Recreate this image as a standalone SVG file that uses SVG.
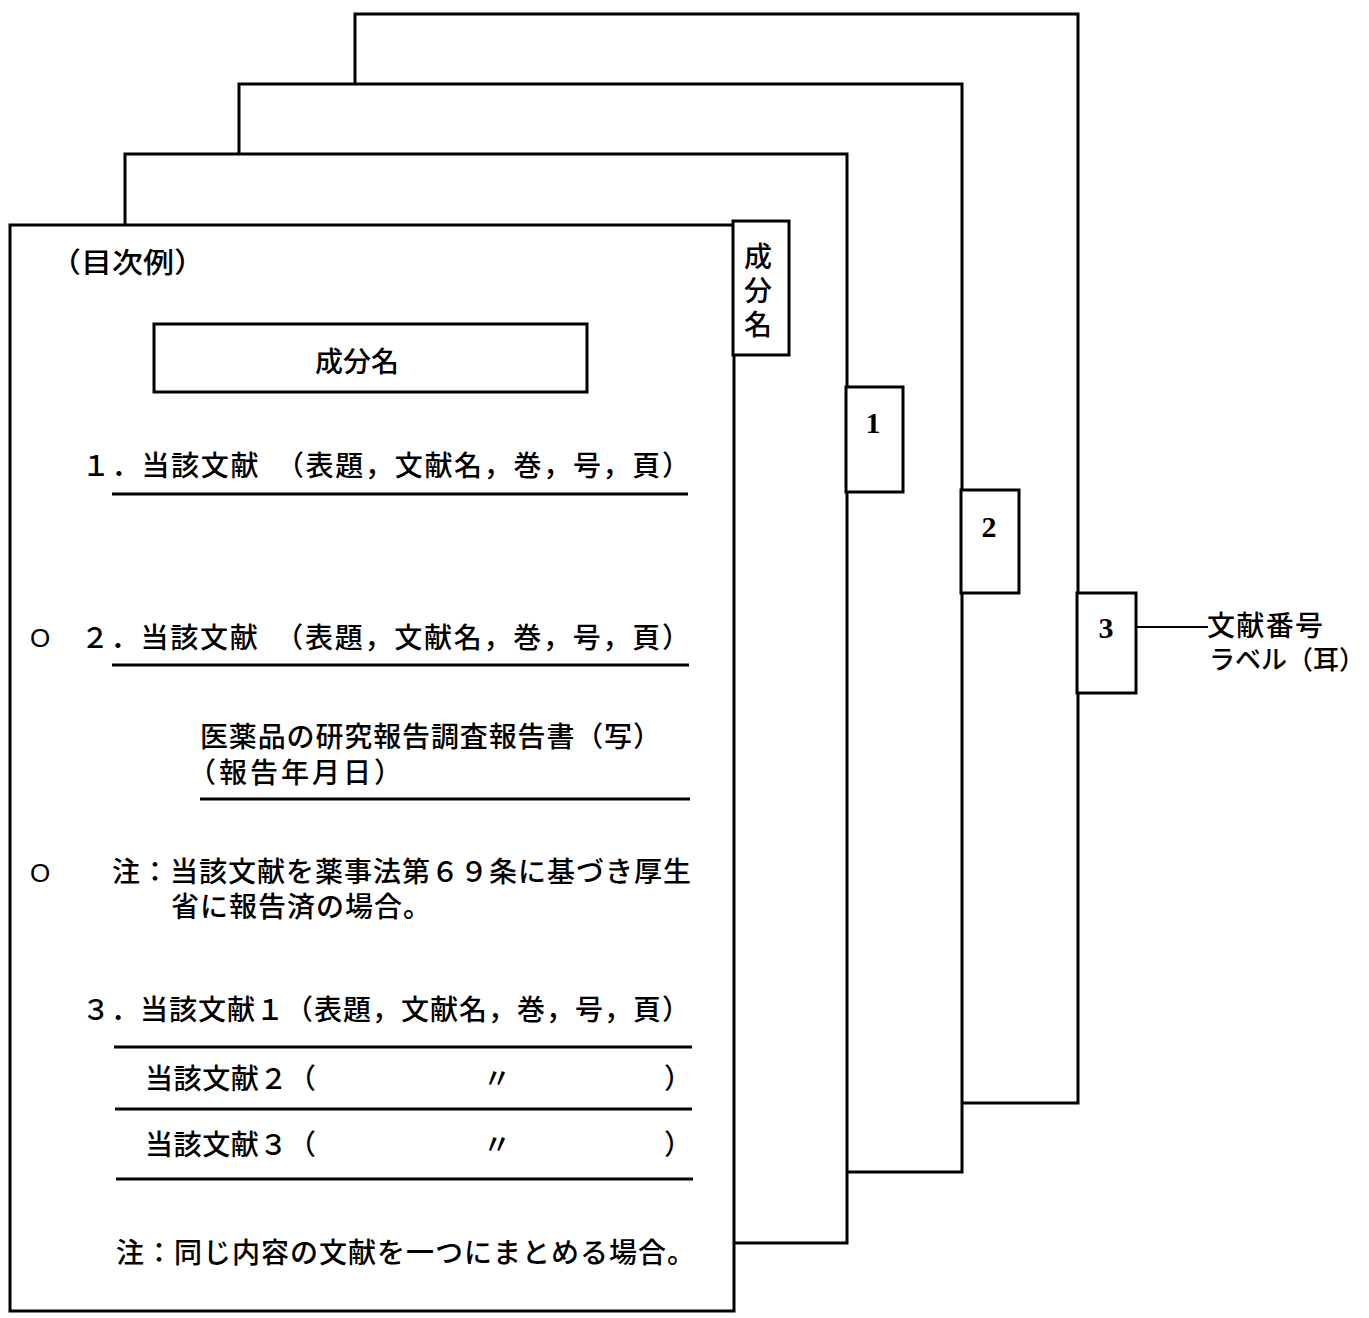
<svg xmlns="http://www.w3.org/2000/svg" width="1369" height="1318" viewBox="0 0 1369 1318">
<style>
.page{fill:#fff;stroke:#000;stroke-width:3}
.tab{fill:#fff;stroke:#000;stroke-width:3}
.rule{stroke:#000;stroke-width:3;fill:none}
.conn{stroke:#000;stroke-width:2;fill:none}
.t{font-family:"Noto Sans CJK JP","Noto Sans",sans-serif;font-size:28px;font-weight:500;fill:#000}
.num{font-family:"Liberation Serif",serif;font-weight:bold;font-size:30px;fill:#000;text-anchor:middle}
.o{font-family:"Liberation Sans",sans-serif;font-size:26px;fill:#000;text-anchor:middle}
</style>
<rect width="1369" height="1318" fill="#fff"/>
<g id="page-4">
<rect class="page" x="355" y="14" width="723" height="1089"/>
<rect class="tab" x="1077" y="593" width="59" height="100"/>
<text class="num" x="1106" y="638">3</text>
</g>
<g id="page-3">
<rect class="page" x="239" y="84" width="723" height="1088"/>
<rect class="tab" x="961" y="490" width="58" height="103"/>
<text class="num" x="989" y="537">2</text>
</g>
<g id="page-2">
<rect class="page" x="125" y="154" width="722" height="1089"/>
<rect class="tab" x="846" y="387" width="57" height="105"/>
<text class="num" x="873" y="433">1</text>
</g>
<g id="page-1">
<rect class="page" x="10" y="225" width="724" height="1086"/>
<rect class="tab" x="733" y="221" width="56" height="134"/>
<text class="t" x="758" y="242" font-size="27" writing-mode="vertical-rl" letter-spacing="6">成分名</text>
<text class="t" x="50" y="273" textLength="155" lengthAdjust="spacingAndGlyphs">（目次例）</text>
<rect class="rule" x="154" y="324" width="433" height="68"/>
<text class="t" x="357" y="372" text-anchor="middle">成分名</text>
<text class="t" x="82" y="476" textLength="608" lengthAdjust="spacing">１．当該文献　（表題，文献名，巻，号，頁）</text>
<line class="rule" x1="112" y1="494" x2="688" y2="494"/>
<text class="o" x="40" y="647">O</text>
<text class="t" x="81" y="648" textLength="609" lengthAdjust="spacing">２．当該文献　（表題，文献名，巻，号，頁）</text>
<line class="rule" x1="112" y1="665" x2="689" y2="665"/>
<text class="t"><tspan x="200" y="747" textLength="461" lengthAdjust="spacing">医薬品の研究報告調査報告書（写）</tspan><tspan x="188" y="783" textLength="214" lengthAdjust="spacing">（報告年月日）</tspan></text>
<line class="rule" x1="200" y1="799" x2="690" y2="799"/>
<text class="o" x="40" y="882">O</text>
<text class="t"><tspan x="112" y="882" textLength="579" lengthAdjust="spacing">注：当該文献を薬事法第６９条に基づき厚生</tspan><tspan x="171" y="917" textLength="260" lengthAdjust="spacing">省に報告済の場合。</tspan></text>
<text class="t" x="82" y="1020" textLength="608" lengthAdjust="spacing">３．当該文献１（表題，文献名，巻，号，頁）</text>
<line class="rule" x1="114" y1="1047" x2="692" y2="1047"/>
<text class="t" x="145" y="1089" textLength="171" lengthAdjust="spacing">当該文献２（</text>
<text class="t" x="497" y="1089" text-anchor="middle">〃</text>
<text class="t" x="664" y="1089">）</text>
<line class="rule" x1="115" y1="1109" x2="692" y2="1109"/>
<text class="t" x="145" y="1155" textLength="171" lengthAdjust="spacing">当該文献３（</text>
<text class="t" x="497" y="1155" text-anchor="middle">〃</text>
<text class="t" x="664" y="1155">）</text>
<line class="rule" x1="116" y1="1179" x2="693" y2="1179"/>
<text class="t" x="116" y="1263" textLength="579" lengthAdjust="spacing">注：同じ内容の文献を一つにまとめる場合。</text>
</g>
<g id="connectors">
<line class="conn" x1="1137" y1="627" x2="1208" y2="627"/>
</g>
<g id="label">
<text class="t"><tspan x="1207" y="636" textLength="116" lengthAdjust="spacing">文献番号</tspan><tspan x="1209" y="669" font-size="26">ラベル（耳）</tspan></text>
</g>
</svg>
